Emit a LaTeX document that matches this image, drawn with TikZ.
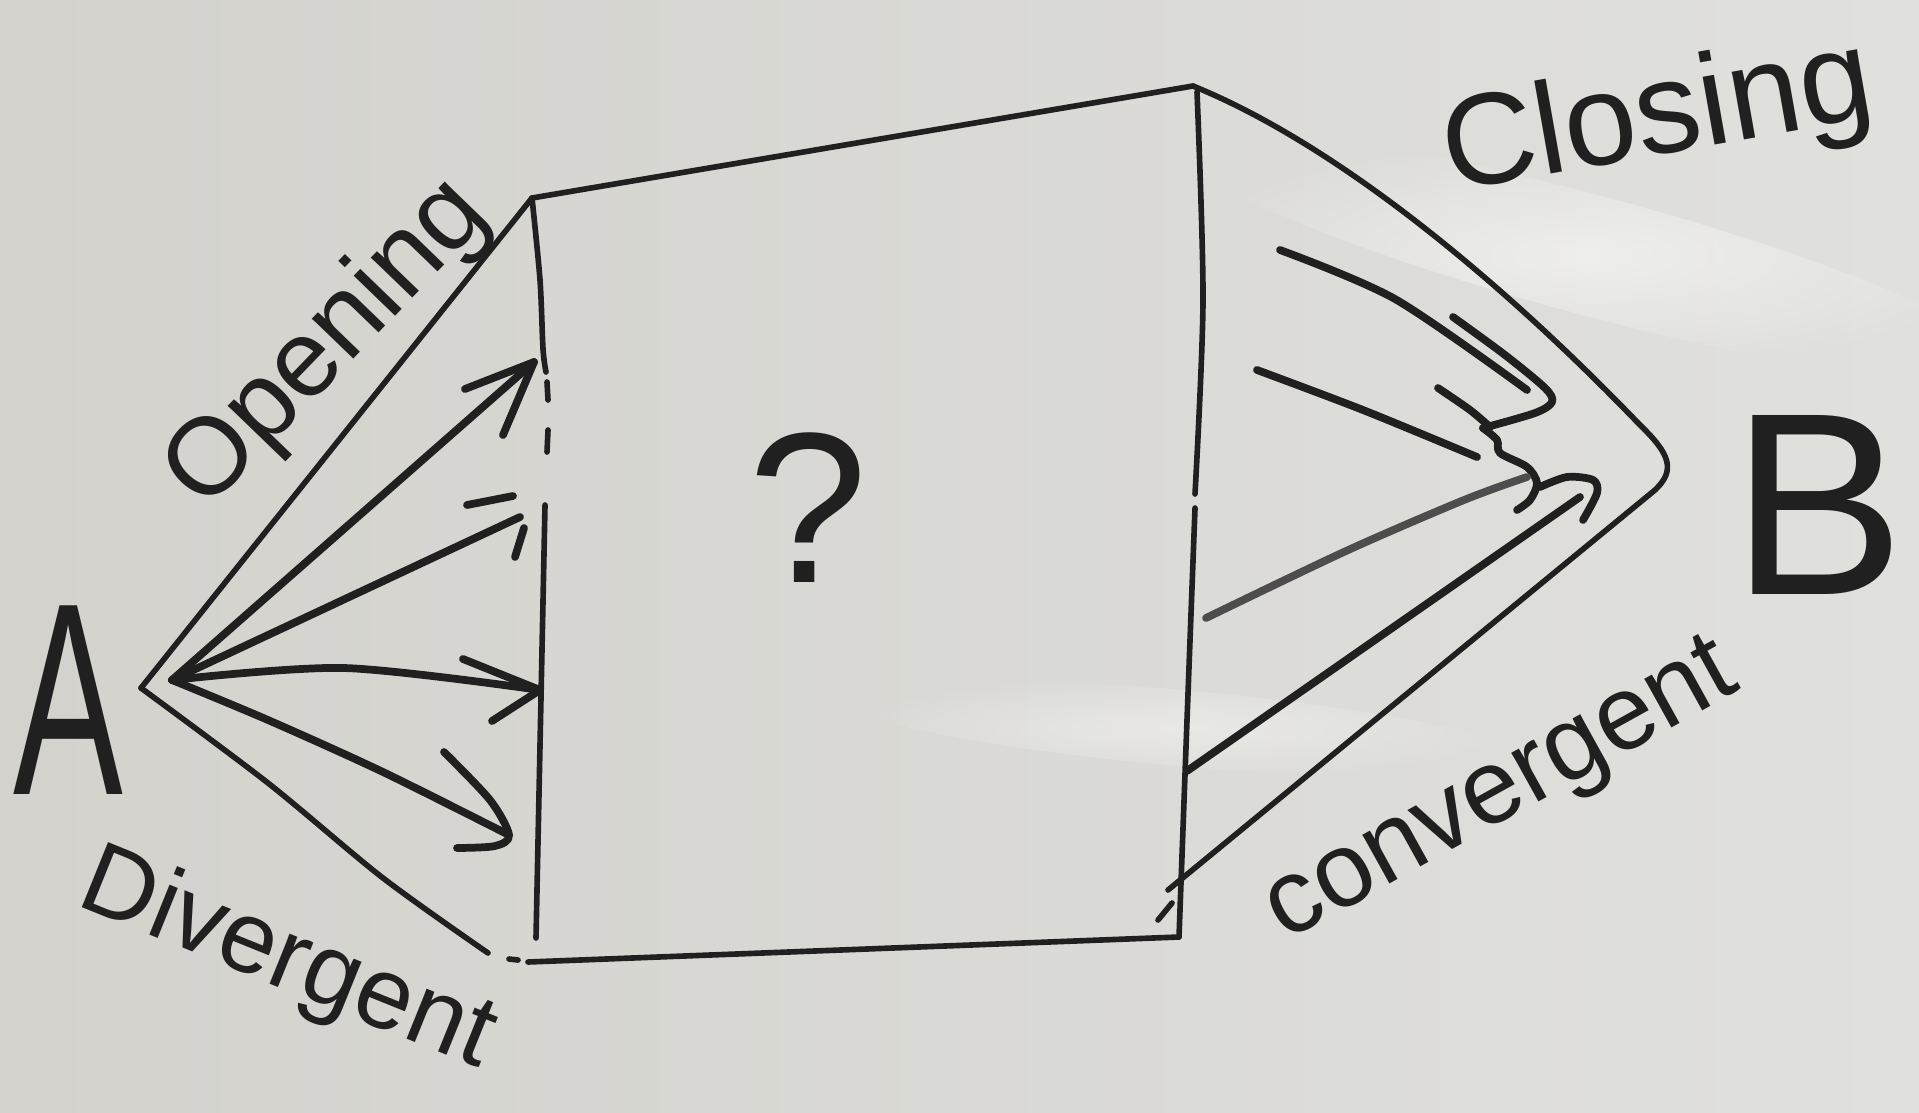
\documentclass[tikz,border=0pt]{standalone}
\usepackage{fontspec}
\usepackage{graphicx}
\setmainfont{Liberation Sans}
\usetikzlibrary{fadings}
\tikzfading[name=glarefade,inner color=transparent!0,outer color=transparent!100]
\definecolor{board}{RGB}{211,210,205}
\definecolor{boardlight}{RGB}{224,224,221}
\definecolor{ink}{RGB}{32,32,32}
\begin{document}
\begin{tikzpicture}[x=0.01cm,y=-0.01cm,line cap=round,line join=round,
  edge/.style={draw=ink,line width=1.6pt},
  stroke/.style={draw=ink,line width=2.2pt},
  lbl/.style={text=ink,inner sep=0pt}]
% whiteboard
\fill[left color=board,right color=boardlight] (0,0) rectangle (1919,1112);
\useasboundingbox (0,0) rectangle (1919,1112);
\fill[white,opacity=0.5,path fading=glarefade,rotate around={-15:(1590,255)}] (1590,255) ellipse [x radius=430,y radius=60];
\fill[white,opacity=0.4,path fading=glarefade,rotate around={-5:(1180,728)}] (1180,728) ellipse [x radius=340,y radius=38];

% key points
\coordinate (Aout) at (141,688);
\coordinate (Aarr) at (172,680);
\coordinate (TL) at (532,198);
\coordinate (TR) at (1193,86);
\coordinate (BR) at (1179,937);
\coordinate (BL) at (528,962);
\coordinate (Bapex) at (1655,490);
\coordinate (Cend) at (1168,890);

% labels
\node[lbl,font=\fontsize{78}{78}\selectfont] (A) at (68,700) {\scalebox{0.6}[1]{A}};
\node[lbl,font=\fontsize{74}{74}\selectfont] (B) at (1818,505) {B};
\node[lbl,font=\fontsize{61}{61}\selectfont] (q) at (808,508) {?};
\node[lbl,font=\fontsize{31}{31}\selectfont,rotate=46] (opening) at (328,345) {Opening};
\node[lbl,font=\fontsize{29}{29}\selectfont,rotate=-22] (divergent) at (287,962) {Divergent};
\node[lbl,font=\fontsize{37}{37}\selectfont,rotate=10,anchor=base] (closing) at (1664,154) {Closing};
\node[lbl,font=\fontsize{30}{30}\selectfont,rotate=29] (convergent) at (1503,795) {convergent};

% opening / divergent boundaries
\draw[edge] (Aout) -- (TL);
\draw[edge] plot[smooth] coordinates {(Aout) (268,783) (383,878) (488,953)};

% box
\draw[edge] (TL) -- (TR);
\draw[edge] plot[smooth] coordinates {(TL) (540,280) (543,349) (546,372)};
\draw[edge] (547,382) -- (548,400);
\draw[edge] (548,430) -- (547,452);
\draw[edge] (545,505) -- (536,938);
\draw[edge] plot[smooth] coordinates {(1197,92) (1203,300) (1195,494)};
\draw[edge] plot[smooth] coordinates {(1195,508) (1187,720) (BR)};
\draw[edge] (509,959) -- (518,960);
\draw[edge] (BL) -- (BR);
\draw[edge] (1158,920) -- (1172,903);

% closing / convergent boundaries
\draw[edge] (TR) .. controls (1350,150) and (1520,300) .. (1640,425)
  .. controls (1670,454) and (1676,470) .. (Bapex) -- (Cend);

% diverging arrows
\draw[stroke] (Aarr) -- (534,362);
\draw[stroke] (465,389) -- (534,362) -- (503,435);
\draw[stroke] (Aarr) -- (520,517);
\draw[stroke] (467,505) -- (513,496);
\draw[stroke] (515,557) -- (524,528);
\draw[stroke] plot[smooth] coordinates {(Aarr) (344,668) (540,690)};
\draw[stroke] (463,659) -- (540,690) -- (492,721);
\draw[stroke] plot[smooth] coordinates {(Aarr) (268,720) (383,772) (509,835)};
\draw[stroke] plot[smooth] coordinates {(444,752) (490,800) (509,835) (495,846) (457,848)};

% converging arrows
\draw[stroke] plot[smooth] coordinates {(1280,250) (1395,299) (1527,390)};
\draw[stroke] plot[smooth] coordinates {(1453,317) (1505,355) (1545,388) (1552,402) (1535,413) (1483,428)};
\draw[stroke] plot[smooth] coordinates {(1483,428) (1497,440) (1500,453) (1527,467) (1537,483) (1530,500) (1517,510)};
\draw[stroke] plot[smooth] coordinates {(1257,370) (1363,410) (1477,457)};
\draw[stroke] plot[smooth] coordinates {(1438,388) (1470,410) (1490,427)};
\draw[stroke,draw=ink!80] plot[smooth] coordinates {(1206,618) (1346,551) (1464,500) (1527,477)};
\draw[stroke] (1187,771) -- (1580,497);
\draw[stroke] plot[smooth] coordinates {(1540,487) (1567,477) (1593,480) (1597,493) (1583,520)};
\end{tikzpicture}
\end{document}
